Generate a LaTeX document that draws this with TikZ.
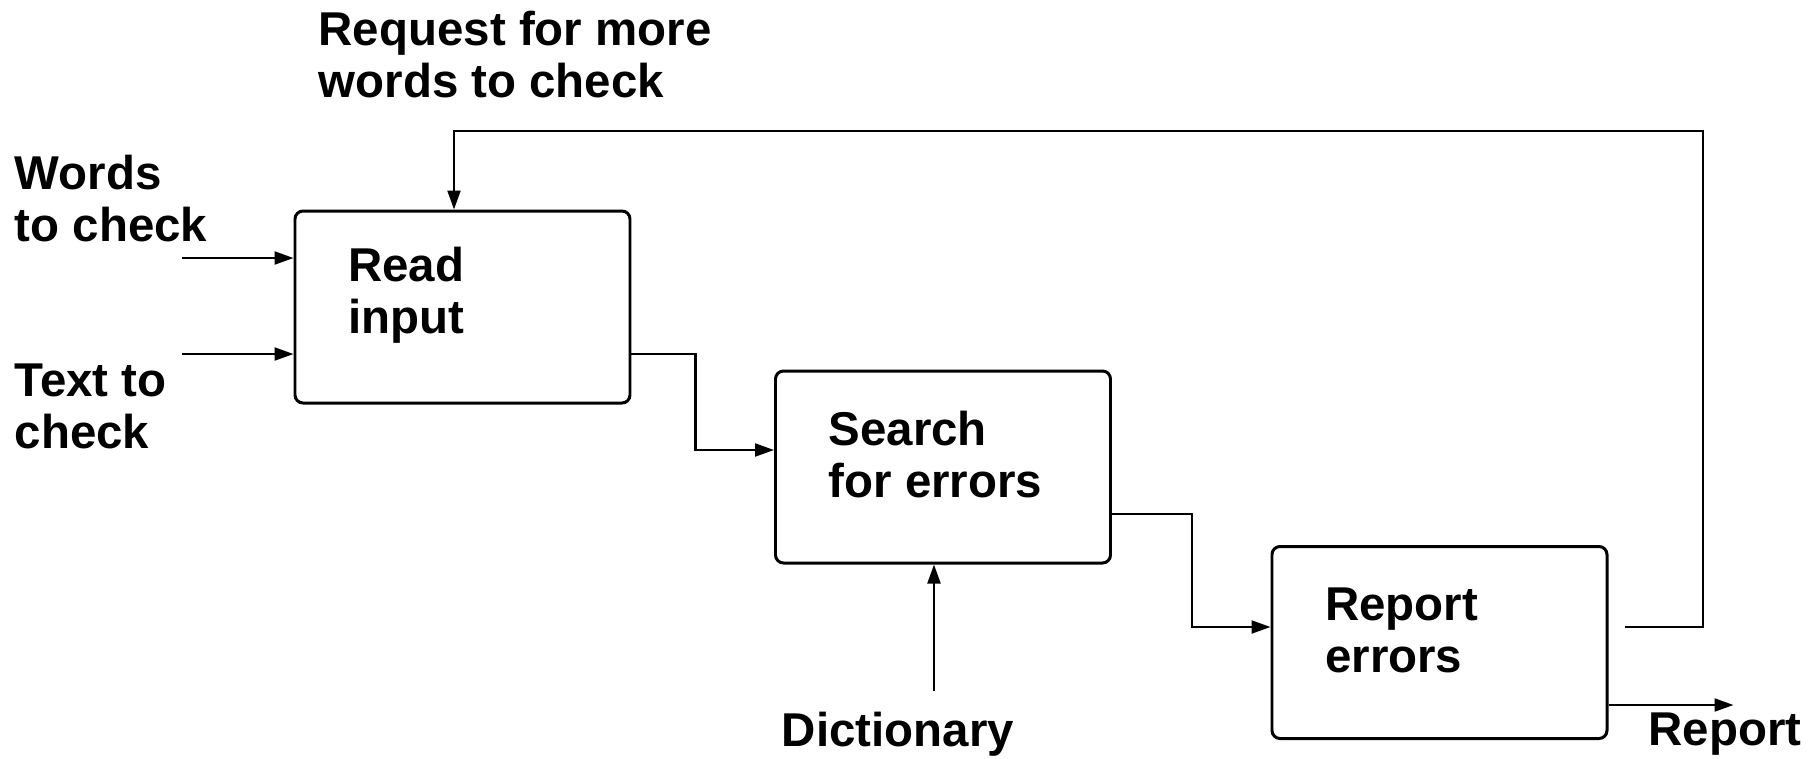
\documentclass[tikz,border=0pt]{standalone}
\usepackage{fontspec}
\setmainfont{Liberation Sans}
\usetikzlibrary{arrows.meta}
\begin{document}
\begin{tikzpicture}[font=\fontsize{13.5}{14.8}\selectfont\bfseries,
  stage/.style={draw, line width=0.85pt, rounded corners=0.8mm, minimum width=3.35cm, minimum height=1.92cm},
  stagetext/.style={inner sep=0pt, align=left, anchor=west},
  flow/.style={line width=0.6pt, -{Triangle[length=1.9mm,width=1.3mm]}},
  lbl/.style={inner sep=0pt, align=left}]
\useasboundingbox (0,0) rectangle (18.2,-7.58);
\node[stage] (read) at (4.625,-3.07) {};
\node[stage] (search) at (9.43,-4.67) {};
\node[stage] (report) at (14.395,-6.425) {};
\node[stagetext] (readtxt) at ([xshift=5.4mm,yshift=1.2mm]read.west) {Read\\input};
\node[stagetext] (searchtxt) at ([xshift=5.4mm,yshift=1.2mm]search.west) {Search\\for errors};
\node[stagetext] (reporttxt) at ([xshift=5.4mm,yshift=1.2mm]report.west) {Report\\errors};
\node[lbl, anchor=west] (req) at (3.18,-0.55) {Request for more\\words to check};
\node[lbl, anchor=west] (words) at (0.14,-1.985) {Words\\to check};
\node[lbl, anchor=west] (text) at (0.14,-4.065) {Text to\\check};
\node[lbl] (dict) at (8.98,-7.34) {Dictionary};
\node[lbl, anchor=west] (out) at (16.48,-7.34) {Report};
\coordinate (wordsin) at (1.82,-2.58); \coordinate (textin) at (1.82,-3.54);
\coordinate (dictin) at (9.34,-6.91); \coordinate (loop) at (17.03,-1.31);
\draw[flow] (wordsin) -- (wordsin -| read.west);
\draw[flow] (textin) -- (textin -| read.west);
\draw[flow] ([yshift=-4.7mm]read.east) -- ++(0.64,0) |- ([yshift=1.7mm]search.west);
\draw[flow] ([yshift=-4.7mm]search.east) -- ++(0.80,0) |- ([yshift=1.55mm]report.west);
\draw[flow] (dictin) -- (dictin |- search.south);
\draw[flow] ([shift={(1.6mm,1.55mm)}]report.east) -| (loop) -| ([xshift=-0.85mm]read.north);
\draw[flow] ([yshift=-6.25mm]report.east) -- ++(1.25,0);
\end{tikzpicture}
\end{document}
